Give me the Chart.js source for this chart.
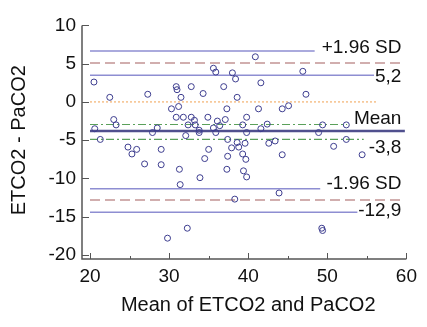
<!DOCTYPE html>
<html>
<head>
<meta charset="utf-8">
<script src="https://cdn.jsdelivr.net/npm/chart.js@4.4.1/dist/chart.umd.min.js"></script>
<style>
  html, body { margin: 0; padding: 0; background: #fff; }
</style>
</head>
<body>
<canvas id="ba-chart" width="427" height="327"></canvas>
<script>
// mean of the two methods (x) and their difference ETCO2 - PaCO2 (y)
const meanVals = [
  20.5, 20.6, 21.3, 22.5, 23.0, 23.3, 24.8, 25.3, 25.9, 26.9,
  27.3, 27.9, 28.5, 29.0, 29.0, 29.8, 30.3, 30.9, 31.0, 31.2,
  31.5, 30.9, 31.8, 31.3, 31.4, 32.1, 32.4, 32.8, 32.8, 33.2,
  33.3, 33.8, 33.8, 33.9, 32.3, 34.3, 34.5, 34.9, 35.0, 35.6,
  35.9, 36.1, 35.6, 35.9, 36.4, 36.9, 37.1, 37.3, 37.4, 37.4,
  37.3, 37.9, 38.0, 38.4, 38.6, 38.6, 38.8, 38.3, 39.3, 39.8,
  39.8, 39.6, 39.3, 39.7, 39.4, 39.8, 40.9, 41.6, 41.3, 41.6,
  42.4, 42.6, 43.4, 43.9, 44.3, 45.1, 44.3, 46.9, 47.3, 48.9,
  49.4, 49.3, 49.4, 50.8, 52.4, 52.4, 54.4
];
const diffVals = [
  2.6, -3.5, -4.9, 0.6, -2.3, -3.0, -5.9, -6.8, -6.2, -8.1,
  1.0, -4.0, -3.4, -6.2, -8.2, -17.8, -0.9, 2.0, 1.6, -0.6,
  0.6, -2.0, -2.0, -8.8, -10.8, -4.4, -3.0, 2.0, -2.0, -2.4,
  -3.0, -3.7, -4.0, -9.9, -16.5, 1.1, -7.4, -2.0, -6.2, 4.4,
  3.9, -2.5, -3.4, -4.0, -3.1, 2.0, -2.3, -0.9, -4.9, -7.1,
  -8.8, -6.0, 3.8, 3.0, 0.6, -5.3, -5.9, -12.7, -3.0, -2.0,
  -4.0, -5.4, -6.8, -7.5, -9.0, -9.8, 5.9, 2.5, -0.9, -3.5,
  -2.9, -5.4, -5.1, -11.9, -0.9, -0.5, -6.9, 4.0, 1.0, -4.0,
  -3.0, -16.5, -16.8, -5.8, -3.0, -4.9, -6.9
];

// horizontal reference lines: level on y, and x where each line stops
const lineLevels = [6.65, 5.1, 3.5, 0, -2.95, -3.8, -4.9, -11.35, -12.8, -14.4];
const lineEnds   = [48.4, 59.8, 55.9, 56.3, 52.5, 59.8, 54.6, 49.1, 59.8, 53.8];
const lineStart = 20;

// texts written at the right end of the lines
const sideTexts = ['+1.96 SD', '5,2', 'Mean', '-3,8', '-1.96 SD', '-12,9'];

const xTicks = [20, 30, 40, 50, 60];
const yTicks = [-20, -15, -10, -5, 0, 5, 10];

// looks of each reference line (same order as lineLevels)
const blueCI = { color: '#8e8ed2', width: 1.5, dash: [] };
const lineStyles = [
  blueCI,
  { color: '#c29494', width: 1.5, dash: [10, 5] },
  blueCI,
  { color: '#f0a050', width: 1, dash: [2, 2] },
  { color: '#5aa05a', width: 1.2, dash: [8, 3, 2, 3] },
  { color: '#50508e', width: 2.5, dash: [] },
  { color: '#5aa05a', width: 1.2, dash: [8, 3, 2, 3] },
  blueCI,
  { color: '#c29494', width: 1.5, dash: [10, 5] },
  blueCI
];
// which line each side text hangs on, and its vertical nudge in px
const textSpots = [
  { line: 0, dy: -3 },
  { line: 2, dy: 2 },
  { line: 5, dy: -12 },
  { line: 5, dy: 17 },
  { line: 7, dy: -5 },
  { line: 9, dy: -1.5 }
];

const FONT = "'Liberation Sans', Arial, Helvetica, sans-serif";
const TEXT = '#111111';
const AXIS = '#555555';

const points = meanVals.map((m, i) => ({ x: m, y: diffVals[i] }));

const lineSets = lineLevels.map((lvl, i) => ({
  data: [{ x: lineStart, y: lvl }, { x: lineEnds[i], y: lvl }],
  showLine: true,
  pointRadius: 0,
  borderColor: lineStyles[i].color,
  borderWidth: lineStyles[i].width,
  borderDash: lineStyles[i].dash,
  fill: false
}));

// offset axis lines with inward ticks, like the original
const offsetAxes = {
  id: 'offsetAxes',
  afterDraw(chart) {
    const { ctx, chartArea, scales } = chart;
    const ax = chartArea.left - 8;
    const ay = chartArea.bottom + 4;
    ctx.save();
    ctx.strokeStyle = AXIS;
    ctx.lineWidth = 1.5;
    ctx.beginPath();
    ctx.moveTo(ax, scales.y.getPixelForValue(10));
    ctx.lineTo(ax, ay);
    ctx.lineTo(scales.x.getPixelForValue(60), ay);
    ctx.stroke();
    ctx.lineWidth = 1;
    yTicks.forEach(v => {
      const py = Math.round(scales.y.getPixelForValue(v)) + 0.5;
      ctx.beginPath();
      ctx.moveTo(ax, py);
      ctx.lineTo(ax + 7, py);
      ctx.stroke();
    });
    for (let v = 20; v <= 60; v += 5) {
      const px = Math.round(scales.x.getPixelForValue(v)) + 0.5;
      const len = v % 10 === 0 ? 6 : 3;
      ctx.beginPath();
      ctx.moveTo(px, ay);
      ctx.lineTo(px, ay - len);
      ctx.stroke();
    }
    ctx.restore();
  }
};

// text labels at the right end of the reference lines
const sideLabels = {
  id: 'sideLabels',
  afterDatasetsDraw(chart) {
    const { ctx, chartArea, scales } = chart;
    ctx.save();
    ctx.font = '19px ' + FONT;
    ctx.fillStyle = TEXT;
    ctx.textAlign = 'right';
    ctx.textBaseline = 'middle';
    sideTexts.forEach((t, i) => {
      const spot = textSpots[i];
      const py = scales.y.getPixelForValue(lineLevels[spot.line]) + spot.dy;
      ctx.fillText(t, chartArea.right - 5, py);
    });
    ctx.restore();
  }
};

new Chart(document.getElementById('ba-chart'), {
  type: 'scatter',
  data: {
    datasets: [{
      data: points,
      pointRadius: 3,
      pointBorderWidth: 1,
      pointBorderColor: '#3d3d8f',
      pointBackgroundColor: 'rgba(255,255,255,0)',
      showLine: false
    }, ...lineSets]
  },
  options: {
    responsive: false,
    animation: false,
    devicePixelRatio: 1,
    layout: { padding: { top: 15, right: 17, bottom: 0, left: 0 } },
    scales: {
      x: {
        type: 'linear',
        min: 20,
        max: 60,
        afterBuildTicks: s => { s.ticks = xTicks.map(v => ({ value: v })); },
        afterFit: s => { s.height = 72; },
        grid: { display: false, drawTicks: false },
        border: { display: false },
        ticks: { color: TEXT, padding: 10, font: { family: FONT, size: 19 } },
        title: {
          display: true,
          text: 'Mean of ETCO2 and PaCO2',
          color: TEXT,
          font: { family: FONT, size: 20 },
          padding: { top: 0, bottom: 10 }
        }
      },
      y: {
        min: -20,
        max: 10,
        afterBuildTicks: s => { s.ticks = yTicks.map(v => ({ value: v })); },
        afterFit: s => { s.width = 90; },
        grid: { display: false, drawTicks: false },
        border: { display: false },
        ticks: { color: TEXT, padding: 14, font: { family: FONT, size: 19 } },
        title: {
          display: true,
          text: 'ETCO2 - PaCO2',
          color: TEXT,
          font: { family: FONT, size: 20 },
          padding: { top: 7, bottom: 0 }
        }
      }
    },
    plugins: {
      legend: { display: false },
      tooltip: { enabled: false }
    }
  },
  plugins: [offsetAxes, sideLabels]
});
</script>
</body>
</html>
